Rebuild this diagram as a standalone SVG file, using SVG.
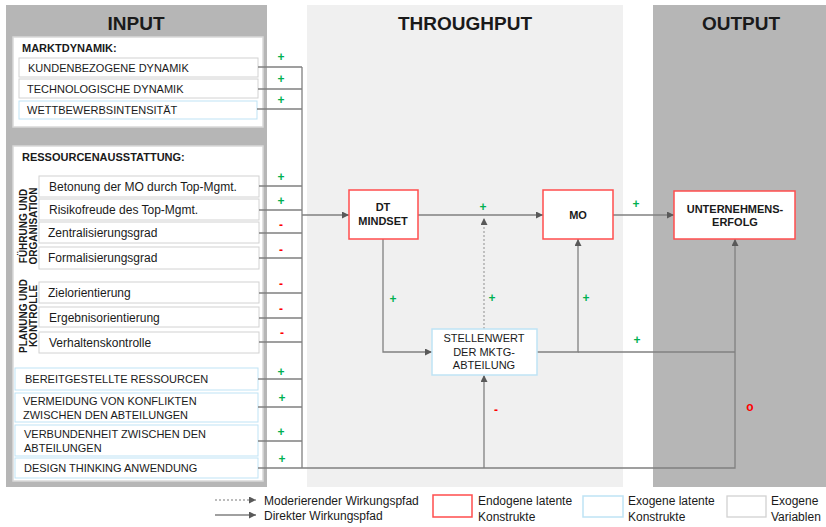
<svg xmlns="http://www.w3.org/2000/svg" width="826" height="527" viewBox="0 0 826 527">
<defs>
<marker id="arr" viewBox="0 0 10 10" refX="10" refY="5" markerWidth="8" markerHeight="7" markerUnits="userSpaceOnUse" orient="auto">
<path d="M0,0 L10,5 L0,10 z" fill="#595959"/>
</marker>
<style>
text{font-family:"Liberation Sans",Arial,sans-serif;fill:#1a1a1a}
.title{font-size:19px;font-weight:bold;text-anchor:middle}
.head{font-size:11px;font-weight:bold}
.item{fill:#fff;stroke:#d2d2d2;stroke-width:1}
.itemb{fill:#fff;stroke:#bfe3f5;stroke-width:1}
.up{font-size:11px}
.low{font-size:12px}
.vert{font-size:10px;font-weight:bold;text-anchor:middle}
.endo{fill:#fff;stroke:#ff4d4d;stroke-width:1.5}
.exo{fill:#fff;stroke:#bfe3f5;stroke-width:1.5}
.nl{font-size:11px;font-weight:bold;text-anchor:middle}
.nr{font-size:11px;text-anchor:middle}
.c{fill:none;stroke:#808080;stroke-width:1.3}
.d{fill:none;stroke:#a6a6a6;stroke-width:1.3;stroke-dasharray:2,2}
.p{font-size:12px;font-weight:bold;fill:#00b050;text-anchor:middle}
.m{font-size:12px;font-weight:bold;fill:#ff0000;text-anchor:middle}
.leg{font-size:12px}
</style>
</defs>
<rect width="826" height="527" fill="#fff"/>
<g id="columns">
<rect x="6" y="5" width="261" height="482" fill="#b6b6b6"/>
<rect x="307" y="5" width="316" height="482" fill="#f0f0f0"/>
<rect x="653" y="5" width="173" height="482" fill="#b6b6b6"/>
<text class="title" x="136" y="30">INPUT</text>
<text class="title" x="465" y="30">THROUGHPUT</text>
<text class="title" x="741" y="30">OUTPUT</text>
</g>
<g id="panel-marktdynamik">
<rect x="13" y="37" width="250" height="90" fill="#fff" stroke="#d9d9d9" stroke-width="1.5"/>
<text class="head" x="22" y="52">MARKTDYNAMIK:</text>
</g>
<g id="panel-ressourcen">
<rect x="13" y="146" width="250" height="335" fill="#fff" stroke="#d9d9d9" stroke-width="1.5"/>
<text class="head" x="22" y="161">RESSOURCENAUSSTATTUNG:</text>
<text class="vert" transform="translate(27,226) rotate(-90)">FÜHRUNG UND</text>
<text class="vert" transform="translate(37,226) rotate(-90)">ORGANISATION</text>
<text class="vert" transform="translate(27,316) rotate(-90)">PLANUNG UND</text>
<text class="vert" transform="translate(37,316) rotate(-90)">KONTROLLE</text>
</g>
<g id="n-kunden"><rect class="item" x="19" y="58" width="239" height="19"/><text class="up" x="28" y="72">KUNDENBEZOGENE DYNAMIK</text></g>
<g id="n-techno"><rect class="item" x="19" y="79" width="239" height="19"/><text class="up" x="27" y="93">TECHNOLOGISCHE DYNAMIK</text></g>
<g id="n-wettbewerb"><rect class="itemb" x="19" y="101" width="238" height="18"/><text class="up" x="27" y="114">WETTBEWERBSINTENSITÄT</text></g>
<g id="n-betonung"><rect class="item" x="39" y="176" width="220" height="21"/><text class="low" x="49" y="191">Betonung der MO durch Top-Mgmt.</text></g>
<g id="n-risiko"><rect class="item" x="39" y="199" width="220" height="21"/><text class="low" x="49" y="214">Risikofreude des Top-Mgmt.</text></g>
<g id="n-zentral"><rect class="item" x="39" y="222" width="220" height="21"/><text class="low" x="48" y="237">Zentralisierungsgrad</text></g>
<g id="n-formal"><rect class="item" x="39" y="247" width="220" height="22"/><text class="low" x="48" y="262">Formalisierungsgrad</text></g>
<g id="n-ziel"><rect class="item" x="39" y="282" width="220" height="21"/><text class="low" x="48" y="297">Zielorientierung</text></g>
<g id="n-ergebnis"><rect class="item" x="39" y="307" width="220" height="20"/><text class="low" x="49" y="322">Ergebnisorientierung</text></g>
<g id="n-verhalten"><rect class="item" x="39" y="332" width="220" height="21"/><text class="low" x="49" y="347">Verhaltenskontrolle</text></g>
<g id="n-bereit"><rect class="itemb" x="15" y="368" width="243" height="22"/><text class="up" x="25" y="383">BEREITGESTELLTE RESSOURCEN</text></g>
<g id="n-vermeidung"><rect class="itemb" x="15" y="393" width="243" height="29"/><text class="up" x="23" y="405">VERMEIDUNG VON KONFLIKTEN</text><text class="up" x="23" y="419">ZWISCHEN DEN ABTEILUNGEN</text></g>
<g id="n-verbund"><rect class="itemb" x="15" y="425" width="243" height="31"/><text class="up" x="24" y="438">VERBUNDENHEIT ZWISCHEN DEN</text><text class="up" x="24" y="452">ABTEILUNGEN</text></g>
<g id="n-design"><rect class="itemb" x="15" y="458" width="243" height="20"/><text class="up" x="24" y="472">DESIGN THINKING ANWENDUNG</text></g>
<g id="connectors">
<path class="c" d="M258,67 H302 M258,89 H302 M257,109 H302 M259,186 H302 M259,210 H302 M259,233 H302 M259,258 H302 M259,293 H302 M259,318 H302 M259,342 H302 M258,379 H302 M258,407 H302 M258,441 H302 M302,67 V468"/>
<path class="c" d="M302,215 H349" marker-end="url(#arr)"/>
<path class="c" d="M418,215 H543" marker-end="url(#arr)"/>
<path class="c" d="M613,215 H674" marker-end="url(#arr)"/>
<path class="d" d="M484,329 V218" marker-end="url(#arr)"/>
<path class="c" d="M383,239 V352 H432" marker-end="url(#arr)"/>
<path class="c" d="M537,352 H578 V239" marker-end="url(#arr)"/>
<path class="c" d="M578,352 H735"/>
<path class="c" d="M258,468 H735 V239" marker-end="url(#arr)"/>
<path class="c" d="M484,468 V375" marker-end="url(#arr)"/>
</g>
<g id="signs">
<text class="p" x="281" y="61">+</text>
<text class="p" x="281" y="83">+</text>
<text class="p" x="281" y="104">+</text>
<text class="p" x="281" y="181">+</text>
<text class="p" x="281" y="205">+</text>
<text class="m" x="281" y="229">-</text>
<text class="m" x="281" y="254">-</text>
<text class="m" x="281" y="288">-</text>
<text class="m" x="281" y="313">-</text>
<text class="m" x="282" y="337">-</text>
<text class="p" x="281" y="376">+</text>
<text class="p" x="282" y="402">+</text>
<text class="p" x="281" y="436">+</text>
<text class="p" x="282" y="463">+</text>
<text class="p" x="483" y="211">+</text>
<text class="p" x="636" y="208">+</text>
<text class="p" x="393" y="303">+</text>
<text class="p" x="492" y="302">+</text>
<text class="p" x="586" y="302">+</text>
<text class="p" x="637" y="344">+</text>
<text class="m" x="496" y="414">-</text>
<text class="m" x="750" y="411">o</text>
</g>
<g id="n-dtmindset"><rect class="endo" x="349" y="190" width="69" height="49"/><text class="nl" x="383" y="211">DT</text><text class="nl" x="383" y="225">MINDSET</text></g>
<g id="n-mo"><rect class="endo" x="543" y="190" width="70" height="49"/><text class="nl" x="578" y="219">MO</text></g>
<g id="n-erfolg"><rect class="endo" x="674" y="191" width="121" height="48"/><text class="nl" x="735" y="213">UNTERNEHMENS-</text><text class="nl" x="735" y="226">ERFOLG</text></g>
<g id="n-stellenwert"><rect class="exo" x="432" y="329" width="105" height="46"/><text class="nr" x="484" y="342">STELLENWERT</text><text class="nr" x="484" y="356">DER MKTG-</text><text class="nr" x="484" y="369">ABTEILUNG</text></g>
<g id="legend">
<path class="d" d="M215,500 H256" marker-end="url(#arr)"/>
<path class="c" d="M215,515 H256" marker-end="url(#arr)"/>
<text class="leg" x="264" y="505">Moderierender Wirkungspfad</text>
<text class="leg" x="264" y="520">Direkter Wirkungspfad</text>
<rect class="endo" x="433" y="495" width="39" height="22"/>
<text class="leg" x="478" y="505">Endogene latente</text>
<text class="leg" x="478" y="521">Konstrukte</text>
<rect class="exo" x="583" y="496" width="40" height="21"/>
<text class="leg" x="628" y="505">Exogene latente</text>
<text class="leg" x="628" y="521">Konstrukte</text>
<rect x="727" y="496" width="39" height="21" fill="#fff" stroke="#d2d2d2" stroke-width="1.3"/>
<text class="leg" x="771" y="505">Exogene</text>
<text class="leg" x="771" y="521">Variablen</text>
</g>
</svg>
